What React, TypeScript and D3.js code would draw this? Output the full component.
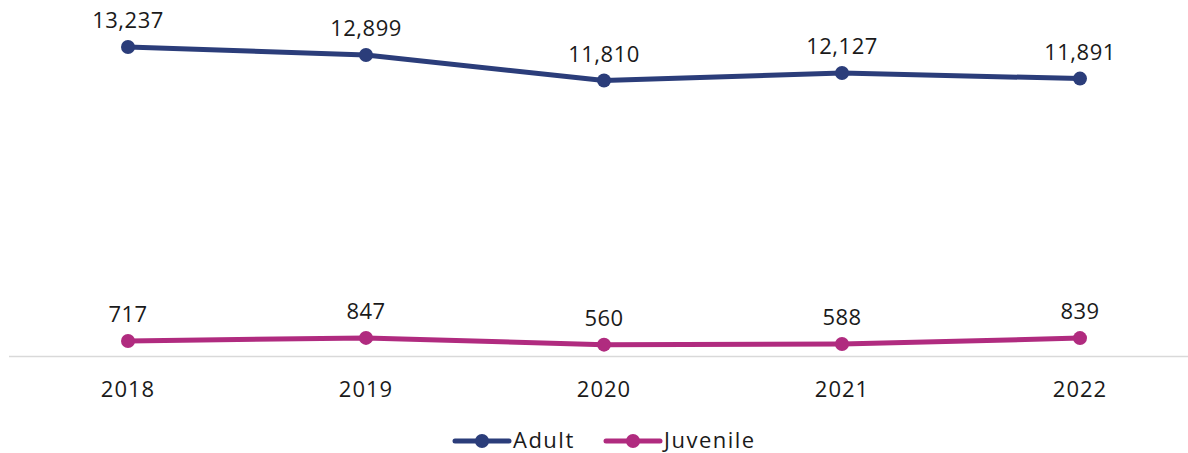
import React from "react";
import * as d3 from "d3";

const years = ["2018", "2019", "2020", "2021", "2022"];
const adult = [13237, 12899, 11810, 12127, 11891];
const juvenile = [717, 847, 560, 588, 839];
const seriesNames = ["Adult", "Juvenile"];
const seriesColors = ["#2b3d7a", "#b02b7f"];

const W = 1188;
const H = 453;

export default function App() {
  const x = d3.scalePoint<string>().domain(years).range([128, 1080]);
  const y = d3.scaleLinear().domain([0, 15000]).range([357.8, 5.6]);
  const line = d3
    .line<number>()
    .x((_, i) => x(years[i]) as number)
    .y((d) => y(d));
  const series = [adult, juvenile];
  const font = "'Open Sans', sans-serif";
  const fmt = d3.format(",");
  const legendItems = [
    { x0: 455, name: seriesNames[0], color: seriesColors[0] },
    { x0: 606, name: seriesNames[1], color: seriesColors[1] },
  ];
  return (
    <svg
      width={W}
      height={H}
      style={{ position: "absolute", left: 0, top: 0 }}
      fontFamily={font}
    >
      <line x1={9} x2={W} y1={356.5} y2={356.5} stroke="#d9d9d9" strokeWidth={1.5} />
      {series.map((vals, si) => (
        <g key={si}>
          <path
            d={line(vals) || ""}
            fill="none"
            stroke={seriesColors[si]}
            strokeWidth={5}
            strokeLinecap="round"
            strokeLinejoin="round"
          />
          {vals.map((v, i) => (
            <g key={i}>
              <circle cx={x(years[i])} cy={y(v)} r={7} fill={seriesColors[si]} />
              <text
                x={x(years[i])}
                y={y(v) - 19}
                textAnchor="middle"
                fontSize={22}
                letterSpacing={0.5}
                fill="#1a1a1a"
              >
                {fmt(v)}
              </text>
            </g>
          ))}
        </g>
      ))}
      {years.map((yr) => (
        <text
          key={yr}
          x={x(yr)}
          y={397}
          textAnchor="middle"
          fontSize={22}
          letterSpacing={1}
          fill="#1a1a1a"
        >
          {yr}
        </text>
      ))}
      {legendItems.map((it) => (
        <g key={it.name}>
          <line
            x1={it.x0}
            x2={it.x0 + 54}
            y1={441}
            y2={441}
            stroke={it.color}
            strokeWidth={5}
            strokeLinecap="round"
          />
          <circle cx={it.x0 + 27} cy={441} r={7} fill={it.color} />
          <text
            x={it.x0 + 58}
            y={448}
            fontSize={22}
            letterSpacing={1.5}
            fill="#1a1a1a"
          >
            {it.name}
          </text>
        </g>
      ))}
    </svg>
  );
}
